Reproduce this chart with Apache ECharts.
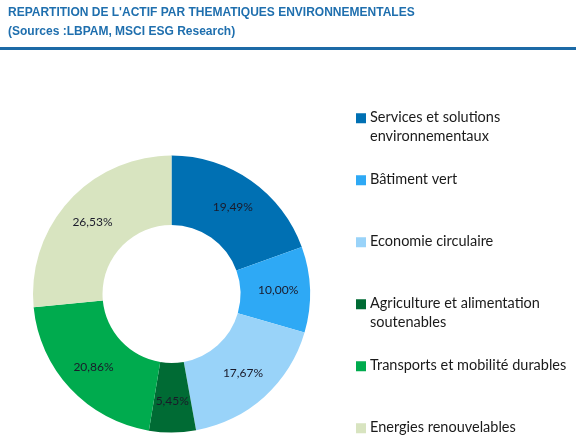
<!DOCTYPE html>
<html>
<head>
<meta charset="utf-8">
<script src="https://cdn.jsdelivr.net/npm/echarts@6/dist/echarts.min.js"></script>
<style>html,body{margin:0;padding:0;background:#fff}#c{width:576px;height:441px}</style>
</head>
<body>
<div id="c"></div>
<script>
const titleText = "REPARTITION DE L'ACTIF PAR THEMATIQUES ENVIRONNEMENTALES";
const subtitleText = "(Sources :LBPAM, MSCI ESG Research)";
const categories = [
  "Services et solutions environnementaux",
  "Bâtiment vert",
  "Economie circulaire",
  "Agriculture et alimentation soutenables",
  "Transports et mobilité durables",
  "Energies renouvelables"
];
const legendLines = [
  ["Services et solutions", "environnementaux"],
  ["Bâtiment vert", " "],
  ["Economie circulaire", " "],
  ["Agriculture et alimentation", "soutenables"],
  ["Transports et mobilité durables", " "],
  ["Energies renouvelables", " "]
];
const values = [19.49, 10.00, 17.67, 5.45, 20.86, 26.53];
const colors = ["#0070B3", "#2EA9F5", "#99D3F9", "#006B34", "#00AB4E", "#D8E4C0"];

const chart = echarts.init(document.getElementById('c'));
chart.setOption({
  backgroundColor: '#fff',
  animation: false,
  title: {
    text: titleText + "\n" + subtitleText,
    left: 3, top: -2,
    textStyle: { fontFamily: 'Liberation Sans, Arial', fontSize: 12, fontWeight: 'bold', color: '#1F6FAE', lineHeight: 19 }
  },
  graphic: [{
    type: 'line', shape: { x1: 0, y1: 48.5, x2: 576, y2: 48.5 },
    style: { stroke: '#1C6AA6', lineWidth: 3 }
  }],
  legend: {
    orient: 'vertical',
    left: 356, top: 108,
    height: 380,
    padding: 0,
    itemWidth: 10, itemHeight: 28,
    itemGap: 23.6,
    icon: 'path://M0,0L10,0L10,10L0,10Z M0,28L0.01,28',
    itemStyle: { borderWidth: 0 },
    data: categories,
    formatter: function (name) {
      const i = categories.indexOf(name);
      return legendLines[i].join('\n');
    },
    textStyle: { fontFamily: 'Lato', fontSize: 14.5, color: '#1a1a1a', lineHeight: 19.2, padding: [0, 0, 0, -1] }
  },
  series: [{
    type: 'pie',
    center: [171.5, 294],
    radius: [69, 138.5],
    startAngle: 90,
    clockwise: true,
    itemStyle: { borderWidth: 0 },
    label: {
      position: 'inside',
      fontFamily: 'Lato',
      fontSize: 12,
      color: '#1a1a2a',
      formatter: function (p) { return p.value.toFixed(2).replace('.', ',') + '%'; }
    },
    labelLine: { show: false },
    emphasis: { disabled: true },
    data: categories.map((c, i) => ({ name: c, value: values[i], itemStyle: { color: colors[i] } }))
  }]
});
</script>
</body>
</html>
